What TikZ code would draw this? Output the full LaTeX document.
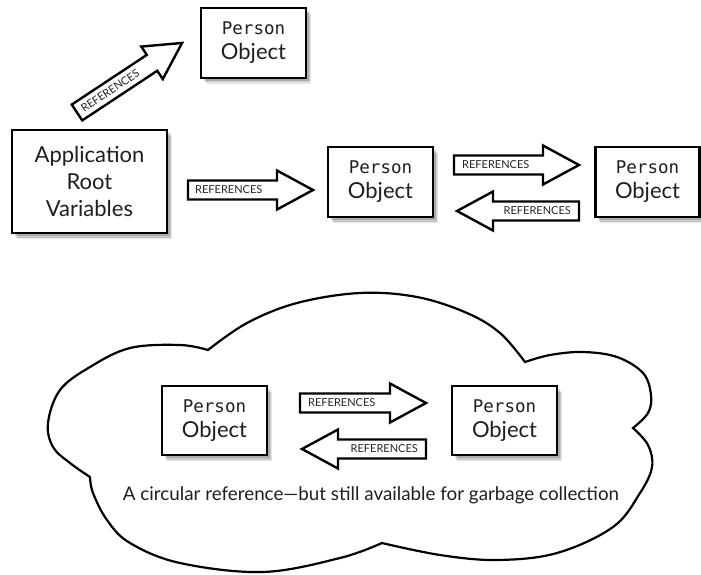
\documentclass[tikz,border=0pt]{standalone}
\usepackage{fontspec}
\setmainfont{Lato}
\newfontfamily\monofont{DejaVu Sans Mono}
\usetikzlibrary{shadows}

\tikzset{
  boxshadow/.style={
    general shadow={fill=black,opacity=.14,shadow xshift=2.5pt,shadow yshift=-3pt},
    general shadow={fill=black,opacity=.12,shadow xshift=3.5pt,shadow yshift=-4.5pt},
    general shadow={fill=black,opacity=.10,shadow xshift=4.5pt,shadow yshift=-6pt}},
  objbox/.style={draw=black,line width=2.6pt,fill=white,boxshadow,align=center,
    inner sep=0pt,minimum width=105pt,minimum height=70pt,
    font=\fontsize{22}{25}\selectfont,text=black!88},
  arrowline/.style={draw=black,line width=2.4pt,fill=white,line join=miter},
  reflabel/.style={font=\fontsize{11}{11}\selectfont,text=black!85,inner sep=0pt},
  cloudline/.style={draw=black,line width=2.2pt},
  caption/.style={font=\fontsize{18.8}{22}\selectfont,text=black!88,inner sep=0pt},
  % block arrow pointing along +x, tail at the pic origin, total length #1
  pics/refarrow/.style={code={
    \draw[arrowline] (0,-9.5) -- ({#1-36},-9.5) -- ({#1-36},-19.5) -- (#1,0)
      -- ({#1-36},19.5) -- ({#1-36},9.5) -- (0,9.5) -- cycle;}}
}

\newcommand{\po}{{\monofont\fontsize{17.5}{25}\selectfont Person}\\Object}

\begin{document}
\begin{tikzpicture}[x=1pt,y=1pt]
\useasboundingbox (0,0) rectangle (701,-575);

% ---- cloud ----
\draw[cloudline]
  plot[smooth,tension=.6] coordinates {(90,-477) (70,-463) (53,-447) (48,-423) (60,-390) (90,-367) (130,-348) (180,-345) (208,-350)}
  -- plot[smooth,tension=.6] coordinates {(208,-350) (247,-323) (297,-303) (360,-293) (417,-297) (467,-313) (500,-333) (525,-362)}
  -- plot[smooth,tension=.6] coordinates {(525,-362) (550,-355) (583,-352) (617,-357) (643,-373) (651,-395) (648,-413) (633,-428)}
  -- plot[smooth,tension=.6] coordinates {(633,-428) (648,-445) (652,-467) (640,-493) (613,-527) (557,-553) (497,-560) (440,-555) (382,-543)}
  -- plot[smooth,tension=.6] coordinates {(382,-543) (340,-558) (263,-572) (180,-563) (130,-543) (107,-520) (93,-493) (90,-477)}
  -- cycle;

% ---- boxes ----
\node[objbox] (ptop) at (253.5,-43) {\po};
\node[objbox,minimum width=155pt,minimum height=103pt,font=\fontsize{22}{27}\selectfont]
  (app) at (89.5,-181.5) {Application\\Root\\Variables};
\node[objbox] (pmid) at (380.5,-182) {\po};
\node[objbox,minimum width=104pt] (pright) at (647.5,-182) {\po};
\node[objbox,minimum height=69pt] (pc1) at (214.5,-420.5) {\po};
\node[objbox,minimum height=69pt] (pc2) at (504.5,-420.5) {\po};

% ---- arrow tails ----
\coordinate (t0) at (77,-112.5);
\coordinate (t1) at (188,-190);
\coordinate (t2) at (454,-165);
\coordinate (t3) at (579,-211);
\coordinate (t4) at (300,-403);
\coordinate (t5) at (426,-449);

% ---- arrows ----
\pic[rotate=33.5] at (t0) {refarrow=126};
\node[reflabel,anchor=west,rotate=33.5] (l0) at ([shift={(5,3.3)}]t0) {REFERENCES};

\pic at (t1) {refarrow=125};
\node[reflabel,anchor=west] (l1) at ([xshift=7pt]t1) {REFERENCES};

\pic at (t2) {refarrow=125};
\node[reflabel,anchor=west] (l2) at ([xshift=8pt]t2) {REFERENCES};

\pic[xscale=-1] at (t3) {refarrow=122};
\node[reflabel,anchor=east] (l3) at ([xshift=-8pt]t3) {REFERENCES};

\pic at (t4) {refarrow=126};
\node[reflabel,anchor=west] (l4) at ([xshift=8pt]t4) {REFERENCES};

\pic[xscale=-1] at (t5) {refarrow=124};
\node[reflabel,anchor=east] (l5) at ([xshift=-8pt]t5) {REFERENCES};

% ---- caption ----
\node[caption,anchor=base] (cap) at (371,-500)
  {A circular reference—but still available for garbage collection};
\end{tikzpicture}
\end{document}
